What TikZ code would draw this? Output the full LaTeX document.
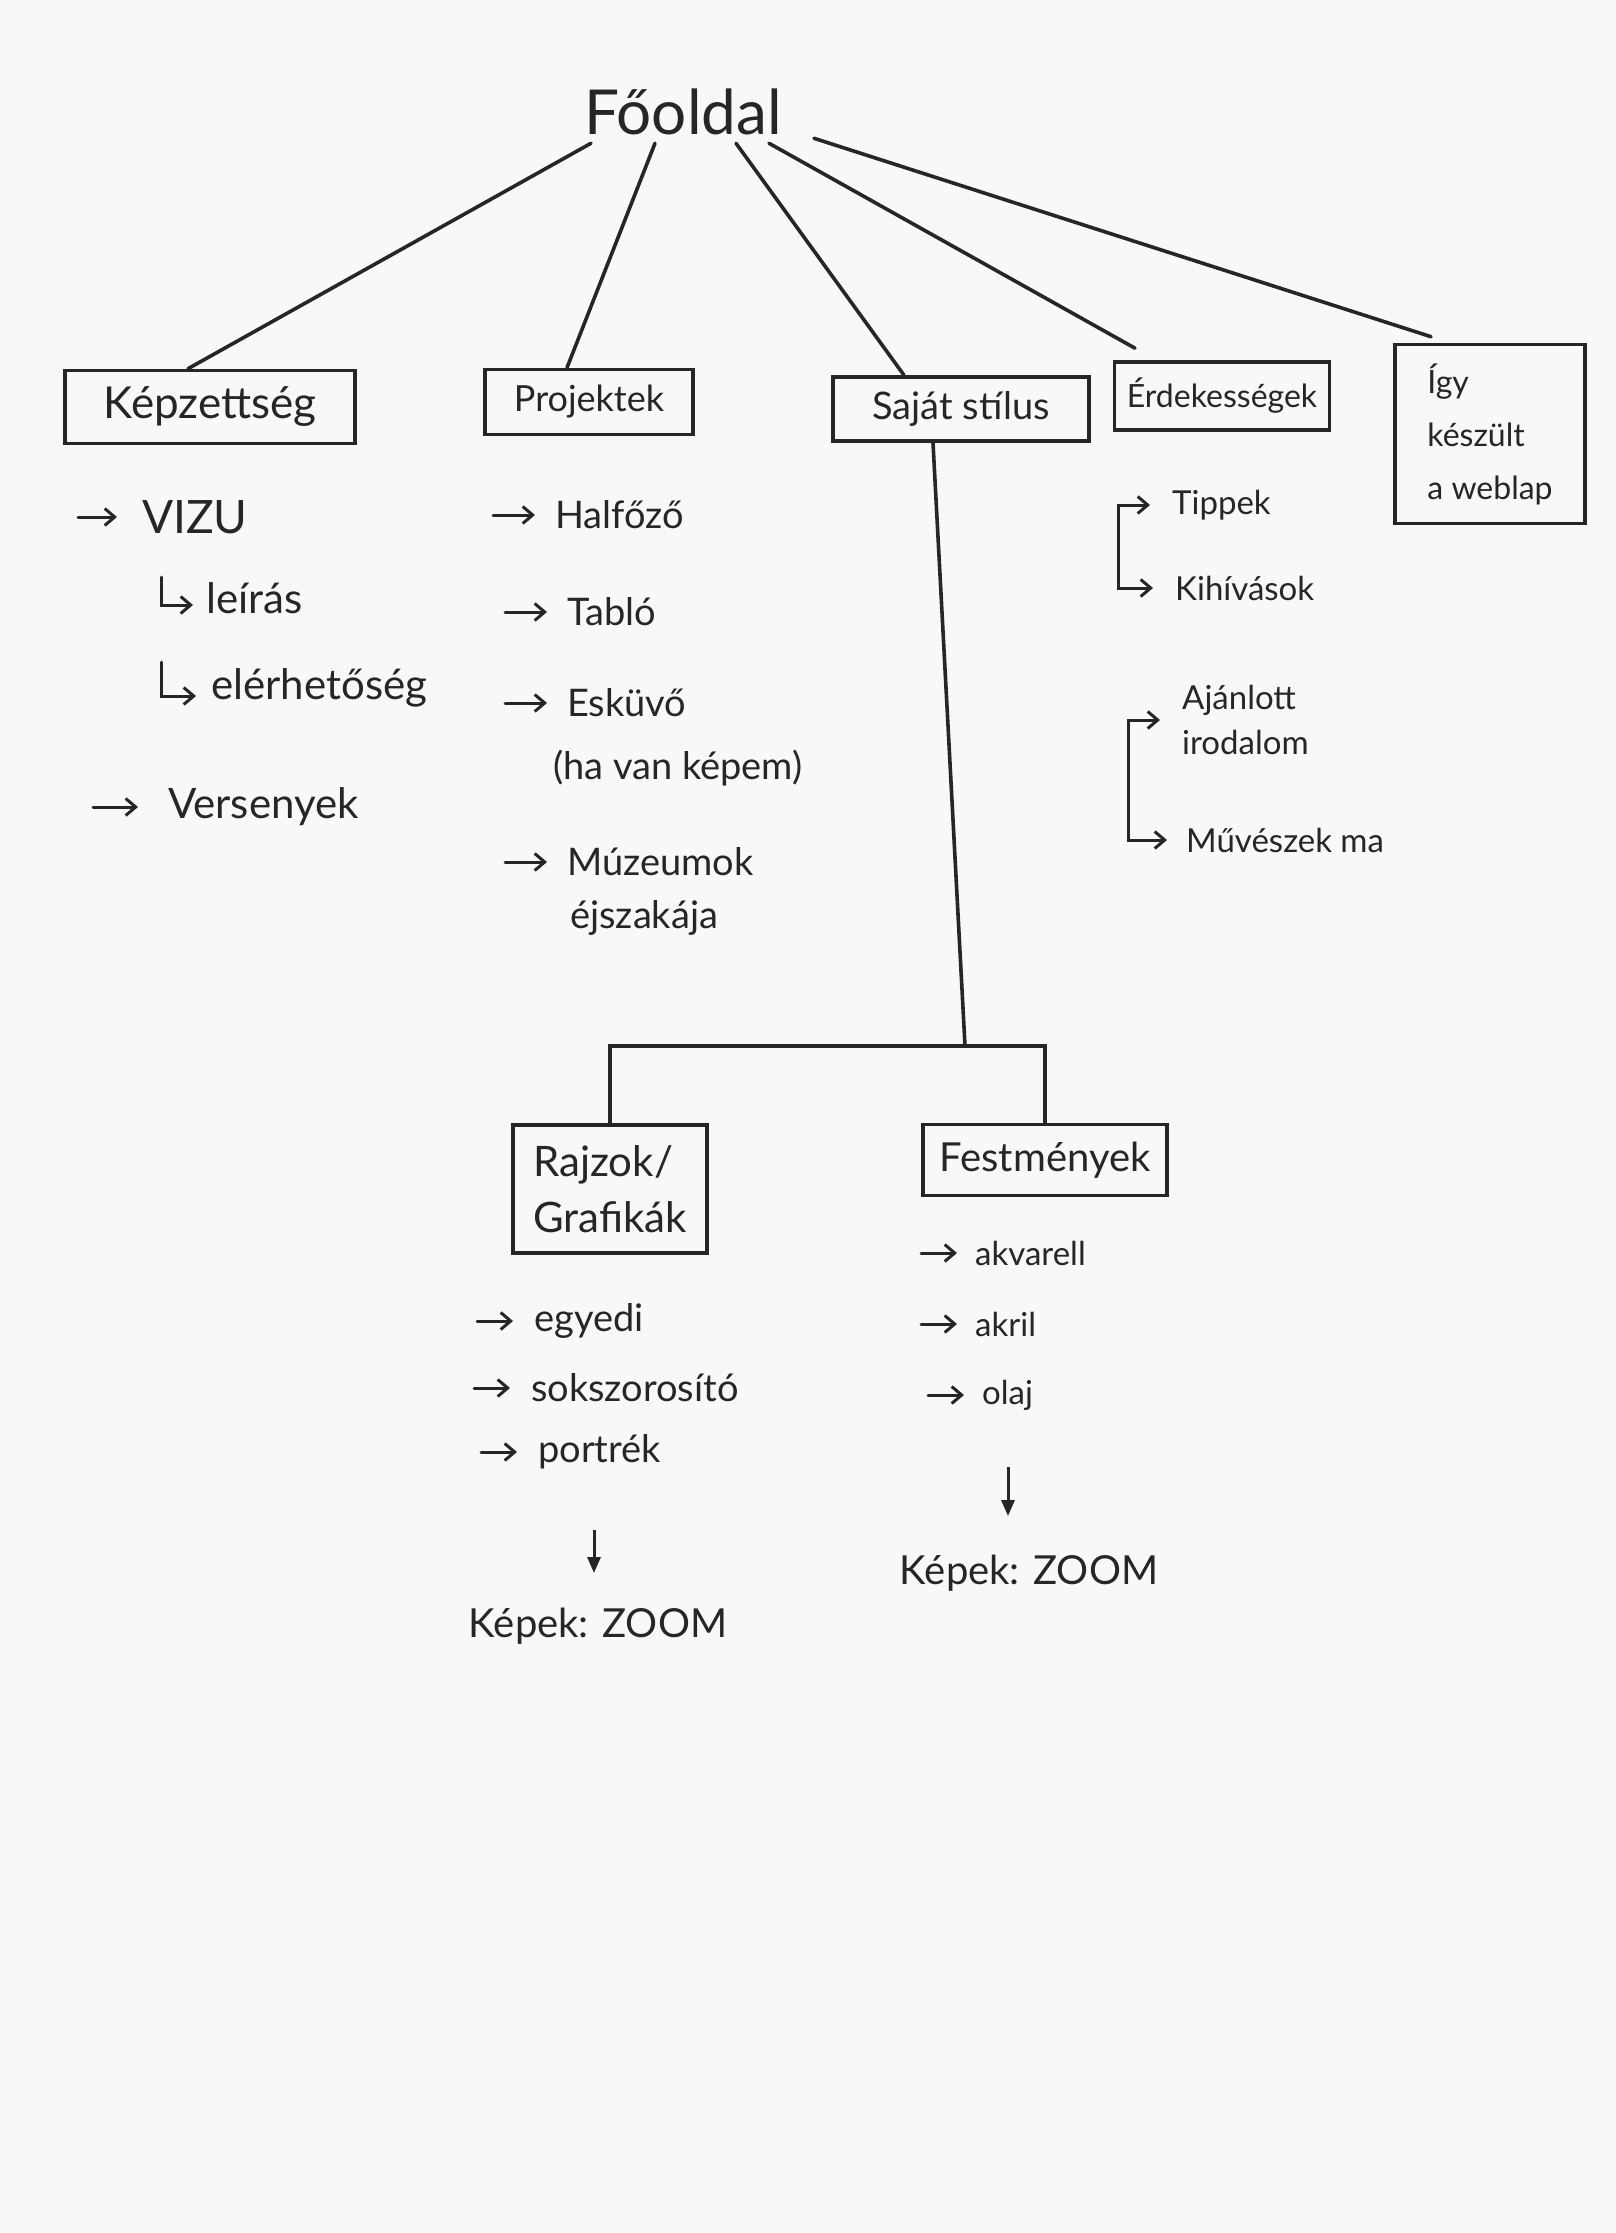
\documentclass[tikz,border=0pt]{standalone}
\usepackage{fontspec}
\setmainfont{Lato}
\usetikzlibrary{arrows.meta,positioning,calc}
\definecolor{ink}{HTML}{262626}
\definecolor{paper}{HTML}{F6F8FA}
\tikzset{
  >={Straight Barb[length=10pt,width=17pt]},
  % dobozok
  sb/.style={draw=ink,line width=3.6pt,inner sep=0pt,text=ink},
  % listák
  li/.style={anchor=west,inner sep=0pt,text=ink,font=\fontsize{38}{46}\selectfont},
  lb/.style={li,font=\fontsize{42}{50}\selectfont},
  lk/.style={li,font=\fontsize{33}{45}\selectfont},
  ln/.style={draw=ink,line width=3.6pt,line cap=round},
  ar/.style={->,draw=ink,line width=3pt,line cap=round},
  br/.style={<->,draw=ink,line width=3pt,line cap=round},
  dn/.style={-{Triangle[length=16pt,width=13pt]},draw=ink,line width=3pt},
}

\begin{document}
\begin{tikzpicture}[x=1pt,y=-1pt]
  \fill[paper] (0,0) rectangle (1616,2233);
  \useasboundingbox (0,0) rectangle (1616,2233);
  % főoldal és menüpontok
  \node[inner sep=8pt,text=ink,font=\fontsize{62}{70}\selectfont] (fo) at (683,112) {Főoldal};
  \node[sb,minimum width=290pt,minimum height=73pt,font=\fontsize{44}{50}\selectfont] (kep) at (210,407) {Képzettség};
  \node[sb,minimum width=208pt,minimum height=65pt,font=\fontsize{36}{42}\selectfont] (pro) at (589,402) {Projektek};
  \node[sb,minimum width=256pt,minimum height=64pt,font=\fontsize{38}{44}\selectfont] (saj) at (961,409) {Saját stílus};
  \node[sb,minimum width=215pt,minimum height=68pt,font=\fontsize{32}{38}\selectfont] (erd) at (1222,396) {Érdekességek};
  \node[sb,minimum width=190pt,minimum height=179pt,align=left,font=\fontsize{32}{53}\selectfont] (igy) at (1490,434) {Így\\készült\\a weblap};
  \draw[ln] ([xshift=-92pt]fo.south) -- ([xshift=-22pt]kep.north);
  \draw[ln] ([xshift=-28pt]fo.south) -- ([xshift=-22pt]pro.north);
  \draw[ln] ([xshift=53pt]fo.south) -- ([xshift=-57pt]saj.north);
  \draw[ln] ([xshift=86pt]fo.south) -- ([xshift=-87pt,yshift=12pt]erd.north);
  \draw[ln] ([xshift=131pt,yshift=5pt]fo.south) -- ([xshift=-59pt,yshift=6pt]igy.north);
  % képzettség
  \node[lb,font=\fontsize{46}{52}\selectfont] (vizu) at (142,517) {VIZU};
  \node[lb] (leir) at (206,598) {leírás};
  \node[lb] (elerh) at (211,688) {elérhetőség};
  \node[lb] (vers) at (168,807) {Versenyek};
  \draw[ar] ([xshift=-64pt]vizu.west) -- ([xshift=-25pt]vizu.west);
  \draw[ar] ([shift={(-45,-21)}]leir.west) |- ([shift={(-13,7)}]leir.west);
  \draw[ar] ([shift={(-50,-26)}]elerh.west) |- ([shift={(-15,8)}]elerh.west);
  \draw[ar] ([xshift=-75pt]vers.west) -- ([xshift=-30pt]vers.west);
  % projektek
  \node[li] (hal) at (555,515) {Halfőző};
  \node[li] (tab) at (567,612) {Tabló};
  \node[li] (esk) at (567,703) {Esküvő};
  \node[li] (havan) at (553,768) {(ha van képem)};
  \node[li] (muz) at (567,862) {Múzeumok};
  \node[li] (ejsz) at (570,918) {éjszakája};
  \foreach \n in {hal,tab,esk,muz}
    \draw[ar] ([xshift=-62pt]\n.west) -- ([xshift=-20pt]\n.west);
  % érdekességek
  \node[lk] (tip) at (1172,505) {Tippek};
  \node[lk] (kih) at (1175,588) {Kihívások};
  \node[lk,align=left] (ajir) at (1182,720) {Ajánlott\\irodalom};
  \node[lk] (muv) at (1186,840) {Művészek ma};
  \draw[br] ([xshift=-22pt]tip.west) -| ([xshift=-57pt]kih.west) -- ([xshift=-22pt]kih.west);
  \draw[br] ([xshift=-22pt]ajir.west) -| ([xshift=-58pt]muv.west) -- ([xshift=-19pt]muv.west);
  % saját stílus
  \node[sb,minimum width=194pt,minimum height=128pt,align=left,font=\fontsize{42}{56}\selectfont] (raj) at (610,1189) {Rajzok/\\Grafikák};
  \node[sb,minimum width=244pt,minimum height=71pt,font=\fontsize{40}{46}\selectfont] (fes) at (1045,1160) {Festmények};
  \coordinate (el) at (965,1046);
  \draw[ln] ([xshift=-28pt]saj.south) -- (el);
  \draw[ln] (raj.north) |- (el) -| (fes.north);
  % rajzok
  \node[li] (egy) at (534,1321) {egyedi};
  \node[li] (sok) at (531,1388) {sokszorosító};
  \node[li] (por) at (538,1452) {portrék};
  \foreach \n in {egy,sok,por}
    \draw[ar] ([xshift=-57pt]\n.west) -- ([xshift=-21pt]\n.west);
  \node[inner sep=0pt,text=ink,font=\fontsize{40}{46}\selectfont] (zma) at (598,1626) {Képek: ZOOM};
  \draw[dn] ([shift={(-4,-96)}]zma.center) -- ([shift={(-4,-53)}]zma.center);
  % festmények
  \node[lk] (akv) at (975,1253) {akvarell};
  \node[lk] (akr) at (975,1324) {akril};
  \node[lk] (ola) at (982,1395) {olaj};
  \foreach \n in {akv,akr,ola}
    \draw[ar] ([xshift=-54pt]\n.west) -- ([xshift=-18pt]\n.west);
  \node[inner sep=0pt,text=ink,font=\fontsize{40}{46}\selectfont] (zmb) at (1029,1573) {Képek: ZOOM};
  \draw[dn] ([shift={(-21,-106)}]zmb.center) -- ([shift={(-21,-57)}]zmb.center);
\end{tikzpicture}
\end{document}
